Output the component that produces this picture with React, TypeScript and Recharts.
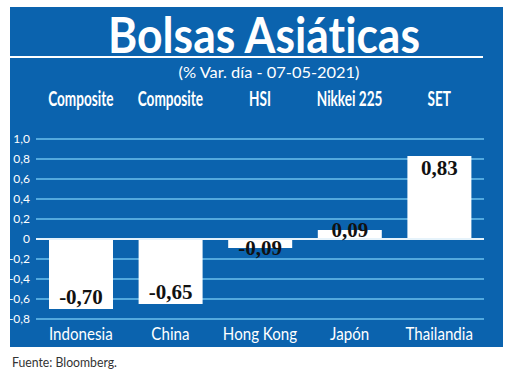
import { BarChart, Bar, XAxis, YAxis, CartesianGrid, ReferenceLine, LabelList } from 'recharts';

const categories = ['Indonesia', 'China', 'Hong Kong', 'Japón', 'Thailandia'];
const indices = ['Composite', 'Composite', 'HSI', 'Nikkei 225', 'SET'];
const values = [-0.7, -0.65, -0.09, 0.09, 0.83];
const yTicks = [-0.8, -0.6, -0.4, -0.2, 0, 0.2, 0.4, 0.6, 0.8, 1.0];

const data = categories.map((country, i) => ({ country, value: values[i] }));

const BLUE = '#0b63ae';
const GRID = '#6cc0ee';
const SANS = 'Lato, "Open Sans", sans-serif';

function fmtNum(v: number): string {
  if (v === 0) return '0';
  return v.toFixed(2).replace('.', ',');
}

function fmtTick(v: number): string {
  if (v === 0) return '0';
  return v.toFixed(1).replace('.', ',');
}

function BottomTick(props: any) {
  const { x, y, payload } = props;
  return (
    <g transform={`translate(${x},${y}) scale(0.84,1)`}>
      <text x={0} y={0} dy="0.71em" textAnchor="middle" fill="#ffffff" fontFamily={SANS} fontSize={18}>
        {payload.value}
      </text>
    </g>
  );
}

function TopTick(props: any) {
  const { x, y, payload } = props;
  // index name of each market, condensed bold like the original
  return (
    <g transform={`translate(${x},${y - 25}) scale(0.68,1)`}>
      <text x={0} y={0} textAnchor="middle" fill="#ffffff" fontFamily={SANS} fontWeight={700} fontSize={20}>
        {indices[payload.index]}
      </text>
    </g>
  );
}

function ValueLabel(props: any) {
  const { x, y, width, height, value } = props;
  const top = Math.min(y, y + height);
  const bottom = Math.max(y, y + height);
  const inset = bottom - top > 30 ? 12 : 0;
  const cy = value >= 0 ? top + inset : bottom - inset;
  return (
    <text
      x={x + width / 2}
      y={cy}
      textAnchor="middle"
      dominantBaseline="central"
      fill="#111111"
      fontFamily='"Liberation Serif", "DejaVu Serif", serif'
      fontWeight={700}
      fontSize={21}
    >
      {fmtNum(value)}
    </text>
  );
}

export default function App() {
  return (
    <div style={{ position: 'absolute', left: 0, top: 0, width: 520, height: 375, background: '#ffffff' }}>
      <div style={{ position: 'absolute', left: 10, top: 7, width: 493, height: 340, background: BLUE }} />
      <svg width={520} height={375} style={{ position: 'absolute', left: 0, top: 0, fontVariantLigatures: 'none' }}>
        <text x={264} y={53} textAnchor="middle" fill="#ffffff" fontFamily={SANS} fontWeight={700} fontSize={50}
          textLength={312} lengthAdjust="spacingAndGlyphs">
          Bolsas Asiáticas
        </text>
        <rect x={10} y={56} width={473} height={2} fill="#ffffff" />
        <text x={269} y={78} textAnchor="middle" fill="#ffffff" fontFamily={SANS} fontSize={16}
          textLength={181} lengthAdjust="spacingAndGlyphs">
          (% Var. día - 07-05-2021)
        </text>
        <text x={12} y={367} fill="#333333" fontFamily={SANS} fontSize={14}
          textLength={105} lengthAdjust="spacingAndGlyphs">
          Fuente: Bloomberg.
        </text>
      </svg>
      <div style={{ position: 'absolute', left: 0, top: 0 }}>
        <BarChart width={520} height={375} data={data} margin={{ top: 99, right: 36, left: 6, bottom: 26 }}>
          <CartesianGrid stroke={GRID} strokeWidth={1.5} vertical={false} />
          <XAxis dataKey="country" axisLine={false} tickLine={false} tick={<BottomTick />} interval={0} height={30} />
          <XAxis xAxisId="top" dataKey="country" orientation="top" axisLine={false} tickLine={false}
            tick={<TopTick />} interval={0} height={40} />
          <YAxis
            domain={[-0.8, 1.0]}
            ticks={yTicks}
            interval={0}
            tickFormatter={fmtTick}
            axisLine={false}
            tickLine={false}
            tickSize={4}
            width={30}
            tick={{ fill: '#ffffff', fontSize: 12, fontFamily: SANS }}
          />
          <ReferenceLine y={0} stroke="#e6f3fb" strokeWidth={2} />
          <Bar dataKey="value" fill="#ffffff" barSize={64} isAnimationActive={false}>
            <LabelList dataKey="value" content={<ValueLabel />} />
          </Bar>
        </BarChart>
      </div>
    </div>
  );
}
